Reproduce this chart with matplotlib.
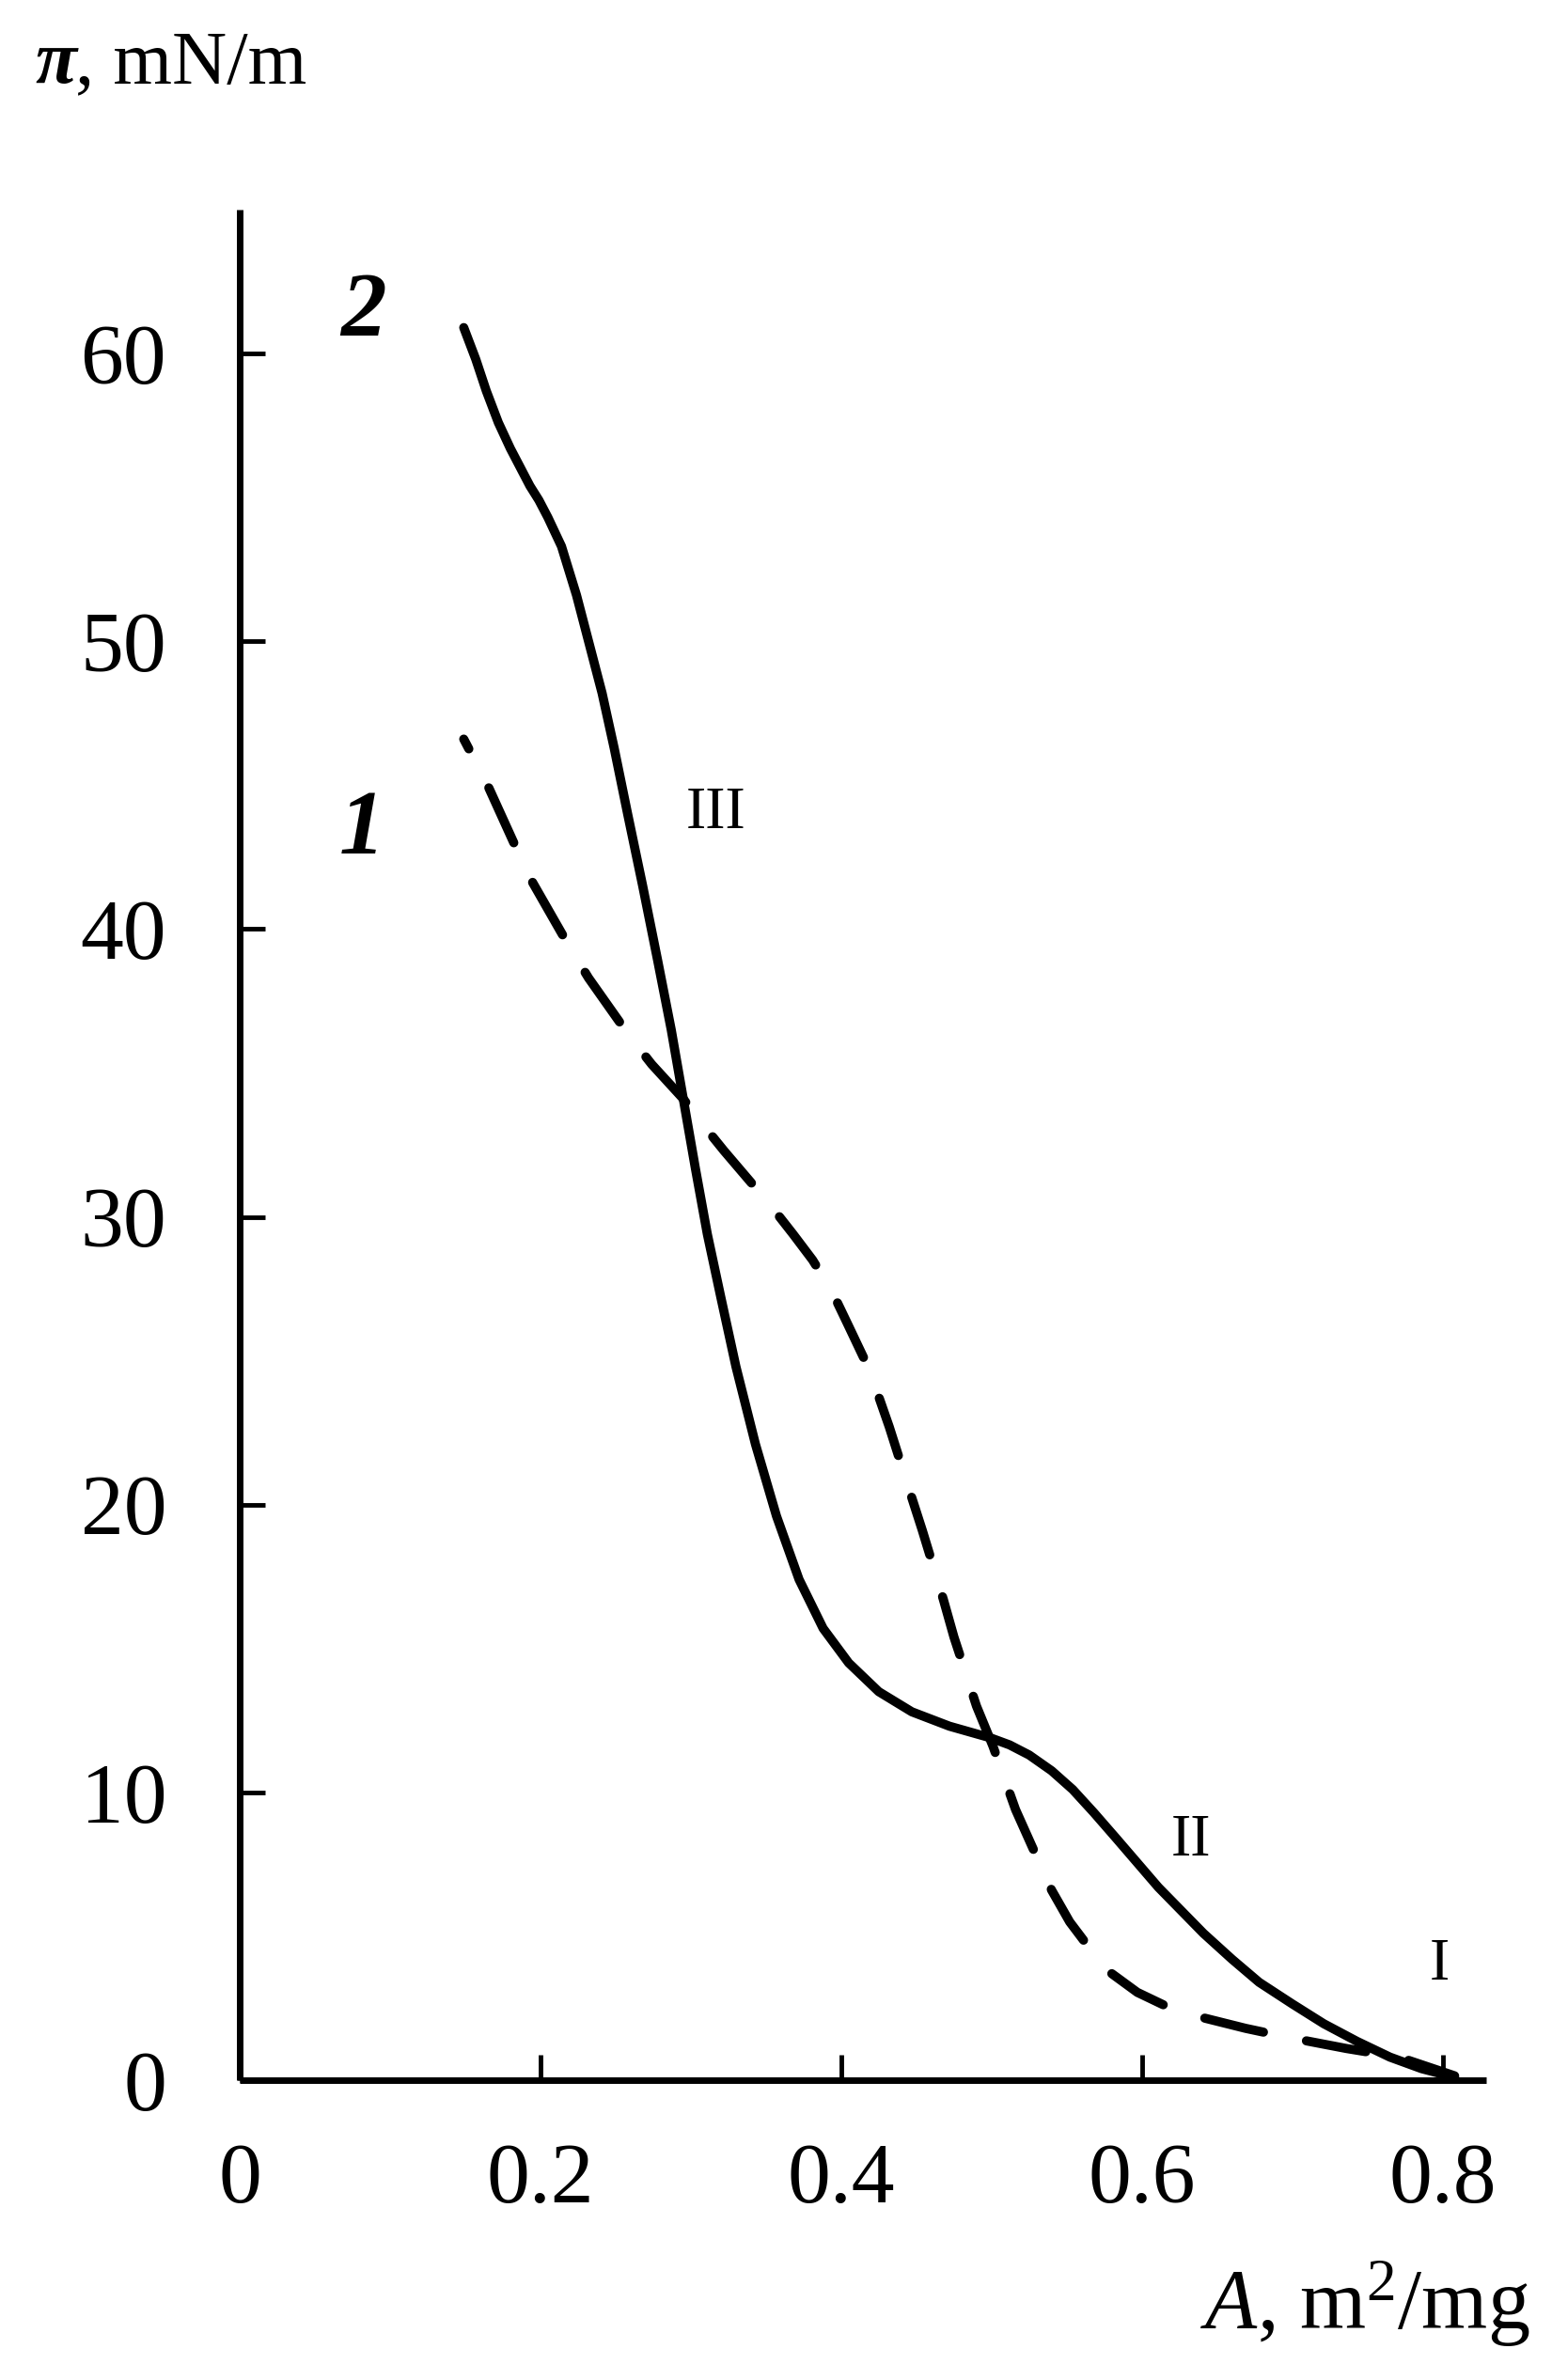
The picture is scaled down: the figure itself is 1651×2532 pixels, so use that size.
import matplotlib
matplotlib.use("Agg")
import matplotlib.pyplot as plt

plt.rcParams['font.family'] = ['Liberation Serif', 'DejaVu Serif']
plt.rcParams['mathtext.fontset'] = 'custom'
plt.rcParams['mathtext.rm'] = 'Liberation Serif'
plt.rcParams['mathtext.it'] = 'Liberation Serif:italic'
plt.rcParams['mathtext.bf'] = 'Liberation Serif:bold'

# Curve 1 (dashed)
area_1 = [0.149, 0.164, 0.184, 0.195, 0.218, 0.232, 0.259, 0.274, 0.295, 0.305,
          0.322, 0.353, 0.368, 0.381, 0.394, 0.405, 0.415, 0.424, 0.432, 0.446,
          0.454, 0.468, 0.475, 0.490, 0.501, 0.516, 0.528, 0.540, 0.552, 0.565,
          0.580, 0.597, 0.623, 0.669, 0.696, 0.736, 0.771, 0.808]
pi_1 = [46.6, 45.1, 42.8, 41.6, 39.5, 38.3, 36.3, 35.3, 34.1, 33.4,
        32.3, 30.4, 29.4, 28.5, 27.4, 26.2, 25.1, 23.9, 22.7, 20.4,
        19.1, 16.7, 15.4, 13.0, 11.6, 9.4, 8.0, 6.6, 5.5, 4.6,
        3.7, 3.05, 2.4, 1.8, 1.5, 1.1, 0.8, 0.15]

# Curve 2 (solid)
area_2 = [0.149, 0.157, 0.164, 0.172, 0.180, 0.187, 0.193, 0.199, 0.205, 0.214,
          0.224, 0.232, 0.241, 0.249, 0.258, 0.268, 0.278, 0.287, 0.295, 0.303,
          0.311, 0.320, 0.330, 0.343, 0.357, 0.372, 0.388, 0.405, 0.425, 0.447,
          0.472, 0.499, 0.512, 0.525, 0.540, 0.554, 0.568, 0.583, 0.597, 0.611,
          0.626, 0.641, 0.660, 0.678, 0.700, 0.721, 0.743, 0.765, 0.786, 0.808]
pi_2 = [60.9, 59.8, 58.7, 57.6, 56.7, 56.0, 55.4, 54.9, 54.3, 53.3,
        51.6, 50.0, 48.2, 46.3, 44.0, 41.5, 38.9, 36.5, 34.1, 31.7,
        29.4, 27.2, 24.8, 22.1, 19.6, 17.4, 15.7, 14.5, 13.5, 12.8,
        12.3, 11.9, 11.65, 11.3, 10.75, 10.1, 9.3, 8.4, 7.55, 6.7,
        5.9, 5.1, 4.2, 3.4, 2.65, 1.96, 1.35, 0.8, 0.4, 0.1]

x_ticks = [0, 0.2, 0.4, 0.6, 0.8]
x_tick_labels = ['0', '0.2', '0.4', '0.6', '0.8']
y_ticks = [0, 10, 20, 30, 40, 50, 60]
y_tick_labels = ['0', '10', '20', '30', '40', '50', '60']

curve_labels = ['1', '2']
curve_label_pos = [(0.081, 43.4), (0.082, 61.4)]
region_labels = ['III', 'II', 'I']
region_label_pos = [(0.317, 44.0), (0.6325, 8.3), (0.798, 4.0)]

fig = plt.figure(figsize=(16.51, 25.32), dpi=100)
ax = fig.add_axes([255 / 1651, 319 / 2532, 1326 / 1651, 1990 / 2532])

ax.plot(area_2, pi_2, color='black', lw=7, solid_capstyle='round',
        solid_joinstyle='round')
ax.plot(area_1, pi_1, color='black', lw=7, linestyle=(5.4, (6.6, 4.8)),
        dash_capstyle='round', dash_joinstyle='round')

ax.set_xlim(0, 0.829)
ax.set_ylim(0, 65)

for s in ['top', 'right']:
    ax.spines[s].set_visible(False)
for s in ['left', 'bottom']:
    ax.spines[s].set_linewidth(5)
    ax.spines[s].set_capstyle('butt')

ax.set_xticks(x_ticks)
ax.set_xticklabels(x_tick_labels)
ax.set_yticks(y_ticks)
ax.set_yticklabels(y_tick_labels)
ax.tick_params(axis='both', direction='in', length=19.5, width=3.5,
               labelsize=66, color='black')
ax.tick_params(axis='x', pad=48)
ax.tick_params(axis='y', pad=56)

for lab, (x, y) in zip(curve_labels, curve_label_pos):
    ax.text(x, y, lab, fontsize=70, fontweight='bold', fontstyle='italic',
            ha='center', va='center')
for lab, (x, y) in zip(region_labels, region_label_pos):
    ax.text(x, y, lab, fontsize=46, ha='center', va='center')

fig.text(37 / 1651, 1 - 88 / 2532, 'π', fontsize=58, fontweight='bold',
         fontstyle='italic', ha='left', va='baseline')
fig.text(80 / 1651, 1 - 88 / 2532, ', mN/m', fontsize=58,
         ha='left', va='baseline')
fig.text(1627 / 1651, 1 - 2478 / 2532, r'$\mathit{A}$, m$^{2}$/mg', fontsize=65,
         ha='right', va='baseline')

fig.savefig('out.png', dpi=100, facecolor='white')
